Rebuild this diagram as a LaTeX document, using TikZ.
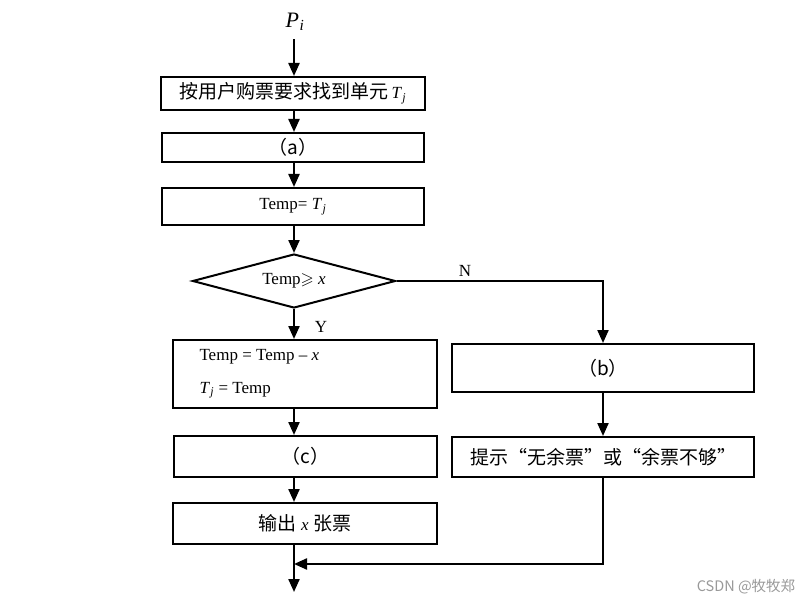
\documentclass[tikz,border=0pt]{standalone}
\usepackage{fontspec}
\usepackage{amssymb}
\setmainfont{Liberation Serif}
\newfontfamily\cjk{Noto Sans CJK SC}
\usetikzlibrary{shapes.geometric,arrows.meta}
\newcommand\myTj{\textit{T}\kern0.5pt\textsubscript{\textit{j}}}
\newcommand\cz{\cjk\fontsize{19}{22}\selectfont}
\begin{document}
\begin{tikzpicture}[x=1pt,y=-1pt,
  box/.style={draw, line width=2pt, inner sep=0pt, font=\fontsize{17}{20}\selectfont},
  lat/.style={font=\fontsize{17}{20}\selectfont},
  arr/.style={-{Triangle[length=13pt,width=11pt]}, line width=2.2pt},
  ln/.style={line width=2.2pt}]
\useasboundingbox (0,0) rectangle (811,604);
\coordinate (col) at (294,0);
\node[font=\fontsize{22}{25}\selectfont] (pi) at (295,22) {\textit{P}\kern0.5pt\textsubscript{\textit{i}}};
\node[box, minimum width=264pt, minimum height=33pt] (b1) at (293,93.5) {{\cz 按用户购票要求找到单元}\,\myTj};
\node[box, minimum width=262pt, minimum height=29pt] (a) at (293,147.5) {{\cz （a）}};
\node[box, minimum width=262pt, minimum height=37pt] (t) at (293,206.5) {Temp= \myTj};
\node[box, diamond, aspect=3.7, minimum width=203pt, minimum height=54pt] (d) at (294,281) {Temp$\geqslant$ \textit{x}};
\node[box, minimum width=264pt, minimum height=68pt] (tm) at (304.5,374) {};
\node[lat, anchor=west] (tm1) at (196,357) {Temp = Temp -- \textit{x}};
\node[lat, anchor=west] (tm2) at (196,390) {\myTj\ = Temp};
\node[box, minimum width=263pt, minimum height=41pt] (c) at (305.5,456.5) {{\cz （c）}};
\node[box, minimum width=264pt, minimum height=41pt] (out) at (305,523.5) {{\cz 输出} \textit{x} {\cz 张票}};
\node[box, minimum width=302pt, minimum height=48pt] (b) at (603,368) {{\cz （b）}};
\node[box, minimum width=302pt, minimum height=40pt] (tip) at (603,457) {{\cz 提示“无余票”或“余票不够”}};
\node[lat] (nl) at (465,271) {N};
\node[lat] (yl) at (321,327) {Y};
\coordinate (m) at (294,564);
\coordinate (end) at (294,592);
\draw[arr, shorten <=5pt] (pi.south -| col) -- (b1.north -| col);
\draw[arr] (b1.south -| col) -- (a.north -| col);
\draw[arr] (a.south -| col) -- (t.north -| col);
\draw[arr] (t.south -| col) -- (d.north);
\draw[arr] (d.south) -- (tm.north -| col);
\draw[arr] (d.east) -- (d.east -| b.north) -- (b.north);
\draw[arr] (tm.south -| col) -- (c.north -| col);
\draw[arr] (c.south -| col) -- (out.north -| col);
\draw[arr] (out.south -| col) -- (end);
\draw[arr] (b.south) -- (tip.north);
\draw[arr] (tip.south) |- (m);
\node[text=black!40, font=\cjk\fontsize{14.5}{17}\selectfont] (wm) at (746,587) {CSDN @牧牧郑};
\end{tikzpicture}
\end{document}
